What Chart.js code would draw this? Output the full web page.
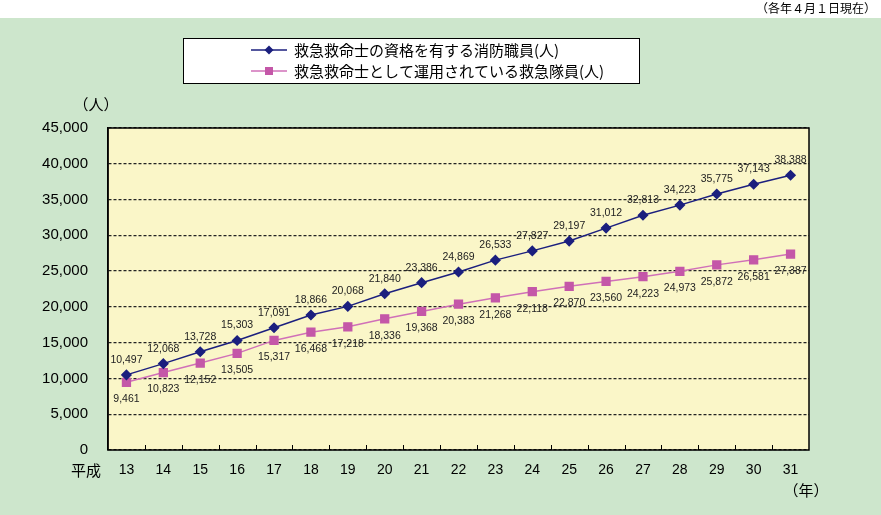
<!DOCTYPE html>
<html>
<head>
<meta charset="utf-8">
<script src="https://cdn.jsdelivr.net/npm/chart.js@4.4.1/dist/chart.umd.min.js"></script>
<style>
  html, body { margin: 0; padding: 0; background: #fff; }
  canvas { display: block; }
</style>
</head>
<body>
<canvas id="grafico" width="881" height="515"></canvas>
<script>
// --- dados ---
const anos = ['13', '14', '15', '16', '17', '18', '19', '20', '21', '22', '23', '24', '25', '26', '27', '28', '29', '30', '31'];
const qualificados = [10497, 12068, 13728, 15303, 17091, 18866, 20068, 21840, 23386, 24869, 26533, 27827, 29197, 31012, 32813, 34223, 35775, 37143, 38388];
const operando = [9461, 10823, 12152, 13505, 15317, 16468, 17218, 18336, 19368, 20383, 21268, 22118, 22870, 23560, 24223, 24973, 25872, 26581, 27387];
const nomesSeries = ['救急救命士の資格を有する消防職員(人)', '救急救命士として運用されている救急隊員(人)'];
const yTicks = { min: 0, max: 45000, step: 5000 };

const FONTE_JP = '"Noto Sans CJK JP", "Noto Sans", sans-serif';
const FONTE_NUM = '"Liberation Sans", Arial, sans-serif';
const COR_AZUL = '#1b1f7e';
const COR_ROSA = '#c457a8';
const fmt = (v) => v.toLocaleString('en-US');

// fundo verde, área amarela, textos soltos
const fundoPlugin = {
  id: 'fundo',
  beforeDraw(chart) {
    const { ctx, chartArea: a, width, height } = chart;
    ctx.save();
    ctx.fillStyle = '#ffffff';
    ctx.fillRect(0, 0, width, height);
    ctx.fillStyle = '#cde6cc';
    ctx.fillRect(0, 18, width, height - 18);
    ctx.fillStyle = '#faf6c8';
    ctx.fillRect(a.left, a.top, a.right - a.left, a.bottom - a.top);
    ctx.restore();
  },
  afterDraw(chart) {
    const { ctx, chartArea: a } = chart;
    ctx.save();
    // borda da área de plotagem
    ctx.strokeStyle = '#000';
    ctx.lineWidth = 1.5;
    ctx.strokeRect(a.left, a.top, a.right - a.left, a.bottom - a.top);
    // marcas internas no eixo x
    const x = chart.scales.x;
    ctx.lineWidth = 1;
    for (let i = 1; i < anos.length; i++) {
      const px = Math.round((x.getPixelForTick(i - 1) + x.getPixelForTick(i)) / 2) + 0.5;
      ctx.beginPath();
      ctx.moveTo(px, a.bottom);
      ctx.lineTo(px, a.bottom - 5);
      ctx.stroke();
    }
    ctx.fillStyle = '#000';
    ctx.font = '12px ' + FONTE_JP;
    ctx.textAlign = 'right';
    ctx.textBaseline = 'middle';
    ctx.fillText('（各年４月１日現在）', 876, 8);
    ctx.font = '15px ' + FONTE_JP;
    ctx.textAlign = 'center';
    ctx.fillText('（人）', 96, 104);
    ctx.fillText('平成', 86, 470);
    ctx.fillText('（年）', 806, 490);
    ctx.restore();
  }
};

// rótulos de dados
const rotulosPlugin = {
  id: 'rotulos',
  afterDatasetsDraw(chart) {
    const { ctx } = chart;
    ctx.save();
    ctx.font = '10.5px ' + FONTE_NUM;
    ctx.fillStyle = '#222';
    ctx.textAlign = 'center';
    ctx.textBaseline = 'middle';
    chart.data.datasets.forEach((ds, di) => {
      chart.getDatasetMeta(di).data.forEach((pt, i) => {
        const dy = di === 0 ? -15 : 17;
        ctx.fillText(fmt(ds.data[i]), pt.x, pt.y + dy);
      });
    });
    ctx.restore();
  }
};

// legenda em caixa
const legendaPlugin = {
  id: 'legendaCaixa',
  afterDraw(chart) {
    const { ctx } = chart;
    ctx.save();
    ctx.fillStyle = '#fff';
    ctx.fillRect(183, 38, 456, 45);
    ctx.strokeStyle = '#000';
    ctx.lineWidth = 1;
    ctx.strokeRect(183.5, 38.5, 456, 45);
    chart.data.datasets.forEach((ds, i) => {
      const y = 50 + i * 21;
      ctx.strokeStyle = ds.borderColor;
      ctx.lineWidth = 1.5;
      ctx.beginPath();
      ctx.moveTo(251, y);
      ctx.lineTo(287, y);
      ctx.stroke();
      ctx.fillStyle = ds.pointBackgroundColor;
      if (i === 0) {
        ctx.beginPath();
        ctx.moveTo(269, y - 4.5);
        ctx.lineTo(273.5, y);
        ctx.lineTo(269, y + 4.5);
        ctx.lineTo(264.5, y);
        ctx.closePath();
        ctx.fill();
      } else {
        ctx.fillRect(265, y - 4, 8, 8);
      }
      ctx.fillStyle = '#000';
      ctx.font = '15px ' + FONTE_JP;
      ctx.textAlign = 'left';
      ctx.textBaseline = 'middle';
      ctx.fillText(ds.label, 294, y);
    });
    ctx.restore();
  }
};

new Chart(document.getElementById('grafico'), {
  type: 'line',
  data: {
    labels: anos,
    datasets: [
      {
        label: nomesSeries[0],
        data: qualificados,
        borderColor: COR_AZUL,
        backgroundColor: COR_AZUL,
        pointBackgroundColor: COR_AZUL,
        pointBorderColor: COR_AZUL,
        pointStyle: 'rectRot',
        pointRadius: 4.5,
        borderWidth: 1.5,
        tension: 0
      },
      {
        label: nomesSeries[1],
        data: operando,
        borderColor: '#d070b8',
        backgroundColor: COR_ROSA,
        pointBackgroundColor: COR_ROSA,
        pointBorderColor: COR_ROSA,
        pointStyle: 'rect',
        pointRadius: 5.5,
        borderWidth: 1.5,
        tension: 0
      }
    ]
  },
  options: {
    responsive: false,
    animation: false,
    locale: 'en-US',
    layout: { padding: { top: 128, right: 72, left: 0, bottom: 0 } },
    plugins: {
      legend: { display: false },
      tooltip: { enabled: false }
    },
    scales: {
      x: {
        offset: true,
        grid: { display: false, drawTicks: false },
        border: { display: false },
        ticks: {
          color: '#000',
          padding: 12,
          maxRotation: 0,
          font: { family: FONTE_NUM, size: 14 }
        },
        afterFit(scale) { scale.height = 65; }
      },
      y: {
        min: yTicks.min,
        max: yTicks.max,
        ticks: {
          stepSize: yTicks.step,
          color: '#000',
          padding: 20,
          font: { family: FONTE_NUM, size: 15 },
          callback: (v) => fmt(v)
        },
        grid: {
          color: '#222',
          lineWidth: 1.3,
          drawTicks: false
        },
        border: { display: true, color: '#000', width: 1.5, dash: [3, 2] },
        afterFit(scale) { scale.width = 108; }
      }
    }
  },
  plugins: [fundoPlugin, rotulosPlugin, legendaPlugin]
});
</script>
</body>
</html>
